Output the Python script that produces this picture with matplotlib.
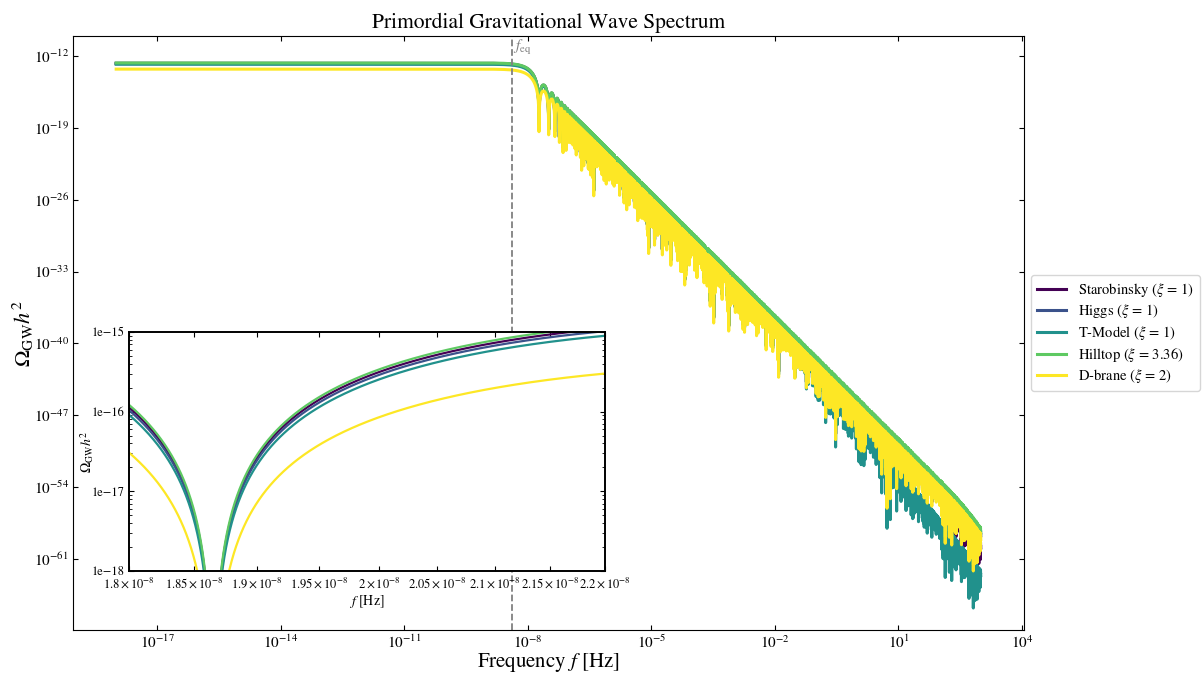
import numpy as np
import matplotlib
matplotlib.use("Agg")
import matplotlib.pyplot as plt
import matplotlib.transforms as mtransforms
from matplotlib.ticker import FixedLocator, FixedFormatter, NullLocator, LogLocator, NullFormatter

plt.rcParams["font.family"] = ["STIXGeneral", "DejaVu Serif"]
plt.rcParams["mathtext.fontset"] = "stix"
plt.rcParams["xtick.direction"] = "in"
plt.rcParams["ytick.direction"] = "in"
plt.rcParams["xtick.top"] = True
plt.rcParams["ytick.right"] = True

# models
models = ["Starobinsky", "Higgs", "T-Model", "Hilltop", "D-brane"]
xi_values = ["1", "1", "1", "3.36", "2"]
plateau = [1.92e-13, 1.77e-13, 1.55e-13, 2.07e-13, 5.2e-14]  # flat part of Omega h^2
f_cut = [90.0, 400.0, 0.02, 500.0, 500.0]  # Hz, where the tail starts to fall faster
cut_power = [2.0, 2.0, 1.0, 2.0, 2.0]
colors = ["#440154", "#3b528b", "#21918c", "#5ec962", "#fde725"]

f_eq = 4.15e-9
f_min_exp, f_max_exp, n_points = -18, 3, 10000

main_xticks = [1e-17, 1e-14, 1e-11, 1e-8, 1e-5, 1e-2, 1e1, 1e4]
main_yticks = [1e-12, 1e-19, 1e-26, 1e-33, 1e-40, 1e-47, 1e-54, 1e-61]
main_ylim = (10**-67.9, 10**-10.06)

inset_xticks = [1.8e-8, 1.85e-8, 1.9e-8, 1.95e-8, 2.0e-8, 2.05e-8, 2.1e-8, 2.15e-8, 2.2e-8]
inset_xlabels = [r"$1.8\times10^{-8}$", r"$1.85\times10^{-8}$", r"$1.9\times10^{-8}$",
                 r"$1.95\times10^{-8}$", r"$2\times10^{-8}$", r"$2.05\times10^{-8}$",
                 r"$2.1\times10^{-8}$", r"$2.15\times10^{-8}$", r"$2.2\times10^{-8}$"]
inset_yticks = [1e-18, 1e-17, 1e-16, 1e-15]
inset_ylabels = ["1e\u221218", "1e\u221217", "1e\u221216", "1e\u221215"]


def transfer(f):
    x = f / f_eq
    small = x < 1e-2
    xs = np.where(small, 1.0, x)
    j1 = np.sin(xs) / xs**2 - np.cos(xs) / xs
    t = np.where(small, 1 - x**2 / 10, 3 * j1 / xs)
    return t**2


def tail(f, fc, p):
    return 1 / (1 + (f / fc)**p)


freq = np.logspace(f_min_exp, f_max_exp, n_points)
freq_zoom = np.logspace(np.log10(inset_xticks[0]), np.log10(inset_xticks[-1]), 3000)

fig = plt.figure(figsize=(12.02, 6.73), dpi=100)
ax = fig.add_axes([0.0607, 0.0639, 0.7912, 0.8826])

for name, xi, amp, fc, p, c in zip(models, xi_values, plateau, f_cut, cut_power, colors):
    omega = amp * transfer(freq) * tail(freq, fc, p)
    ax.loglog(freq, omega, color=c, lw=2.2, label=name + r" ($\xi$ = " + xi + ")")

ax.axvline(f_eq, color="gray", ls="--", lw=1.3)
trans = mtransforms.blended_transform_factory(ax.transData, ax.transAxes)
ax.text(f_eq * 1.06, 0.997, r"$f_{\rm eq}$", transform=trans, color="gray",
        fontsize=11, ha="left", va="top")

ax.set_ylim(main_ylim)
ax.xaxis.set_major_locator(FixedLocator(main_xticks))
ax.yaxis.set_major_locator(FixedLocator(main_yticks))
ax.xaxis.set_minor_locator(NullLocator())
ax.yaxis.set_minor_locator(NullLocator())
ax.tick_params(labelsize=11, pad=3)
ax.set_xlabel(r"Frequency $f$ [Hz]", fontsize=15, labelpad=0)
ax.set_ylabel(r"$\Omega_{\rm GW} h^2$", fontsize=16, labelpad=-2)
ax.set_title("Primordial Gravitational Wave Spectrum", fontsize=15.5)
ax.legend(loc="center left", bbox_to_anchor=(1.0, 0.5), fontsize=10.5, labelspacing=0.25)

# zoom on the first dip
axin = fig.add_axes([0.1075, 0.1516, 0.3957, 0.3551])
for amp, fc, p, c in zip(plateau, f_cut, cut_power, colors):
    axin.loglog(freq_zoom, amp * transfer(freq_zoom) * tail(freq_zoom, fc, p), color=c, lw=1.6)
axin.set_xlim(inset_xticks[0], inset_xticks[-1])
axin.set_ylim(inset_yticks[0], inset_yticks[-1])
axin.xaxis.set_major_locator(FixedLocator(inset_xticks))
axin.xaxis.set_major_formatter(FixedFormatter(inset_xlabels))
axin.xaxis.set_minor_locator(NullLocator())
axin.yaxis.set_major_locator(FixedLocator(inset_yticks))
axin.yaxis.set_major_formatter(FixedFormatter(inset_ylabels))
axin.yaxis.set_minor_locator(LogLocator(base=10, subs=np.arange(2, 10)))
axin.yaxis.set_minor_formatter(NullFormatter())
axin.tick_params(labelsize=9)
for s in axin.spines.values():
    s.set_linewidth(1.4)
axin.set_xlabel(r"$f$ [Hz]", fontsize=10, labelpad=2)
axin.set_ylabel(r"$\Omega_{\rm GW} h^2$", fontsize=10, labelpad=-3)

fig.savefig("out.png", dpi=100)
